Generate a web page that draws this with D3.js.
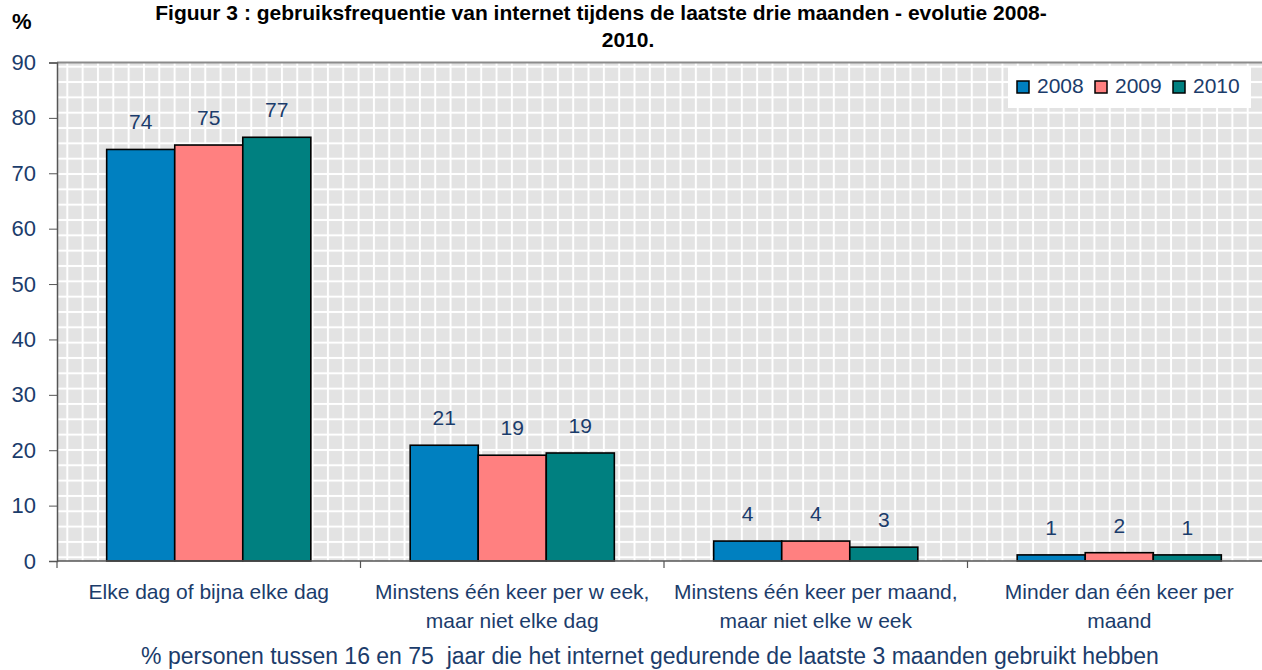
<!DOCTYPE html>
<html>
<head>
<meta charset="utf-8">
<script src="https://cdn.jsdelivr.net/npm/d3@7"></script>
<style>
  body { margin:0; background:#fff; }
  svg { display:block; font-family: Arial, "Liberation Sans", sans-serif; }
</style>
</head>
<body>
<div id="chart"></div>
<script>
// =====================================================================
// data
var categories = ["dag", "week", "maand", "minder"];
var categoryLines = [
    ["Elke dag of bijna elke dag"],
    ["Minstens één keer per w eek,", "maar niet elke dag"],
    ["Minstens één keer per maand,", "maar niet elke w eek"],
    ["Minder dan één keer per", "maand"]
];
var years = ["2008", "2009", "2010"];
var values2008 = [74.3, 20.9, 3.6, 1.1];
var values2009 = [75.1, 19.1, 3.6, 1.5];
var values2010 = [76.5, 19.5, 2.5, 1.1];
var labels2008 = ["74", "21", "4", "1"];
var labels2009 = ["75", "19", "4", "2"];
var labels2010 = ["77", "19", "3", "1"];
var yTicks = [0, 10, 20, 30, 40, 50, 60, 70, 80, 90];
var colors = ["#0080C0", "#FF8080", "#008080"];
var textColor = "#1b3c6b";
// =====================================================================
var size = { width:1262, height:670 };
var plot = { left:57, right:1271, top:62.5, bottom:561 };

var series = [values2008, values2009, values2010];
var seriesLabels = [labels2008, labels2009, labels2010];

var svg = d3.select("#chart").append("svg")
    .attr("width", size.width).attr("height", size.height);

// grid pattern (white lines on grey)
var cell = 15.33;
var defs = svg.append("defs");
var pat = defs.append("pattern")
    .attr("id", "grid")
    .attr("patternUnits", "userSpaceOnUse")
    .attr("width", cell).attr("height", cell)
    .attr("x", 67.3).attr("y", 66.7);
pat.append("rect").attr("width", cell).attr("height", cell).attr("fill", "#e3e3e3");
pat.append("rect").attr("x", -1).attr("y", 0).attr("width", 2).attr("height", cell).attr("fill", "#fff");
pat.append("rect").attr("x", 0).attr("y", -1).attr("width", cell).attr("height", 2).attr("fill", "#fff");
pat.append("rect").attr("x", cell - 1).attr("y", 0).attr("width", 2).attr("height", cell).attr("fill", "#fff");
pat.append("rect").attr("x", 0).attr("y", cell - 1).attr("width", cell).attr("height", 2).attr("fill", "#fff");

// scales
var y = d3.scaleLinear().domain([0, 90]).range([plot.bottom, plot.top]);
var x0 = d3.scaleBand().domain(categories).range([plot.left, plot.right]);
var x1 = d3.scaleBand().domain(years).range([0, x0.bandwidth()])
    .paddingInner(0).paddingOuter(0.73);

// plot area
svg.append("rect")
    .attr("x", plot.left).attr("y", plot.top)
    .attr("width", plot.right - plot.left).attr("height", plot.bottom - plot.top)
    .attr("fill", "url(#grid)");
svg.append("line")
    .attr("x1", plot.left).attr("x2", plot.right)
    .attr("y1", plot.top).attr("y2", plot.top)
    .attr("stroke", "#8c8c8c").attr("stroke-width", 2);

// y axis
var yAxis = d3.axisLeft(y).tickValues(yTicks).tickSize(8).tickPadding(13);
var gy = svg.append("g").attr("transform", "translate(" + plot.left + ",0)").call(yAxis);
gy.select(".domain").attr("stroke", "#555").attr("stroke-width", 1.5);
gy.selectAll(".tick line").attr("stroke", "#555");
gy.selectAll(".tick text").attr("fill", textColor)
    .style("font-size", "22px").style("font-family", "Arial, 'Liberation Sans', sans-serif");

// bars
series.forEach(function(vals, s) {
    svg.append("g").selectAll("rect")
        .data(vals).enter().append("rect")
        .attr("x", function(d, i){ return x0(categories[i]) + x1(years[s]); })
        .attr("y", function(d){ return y(d); })
        .attr("width", x1.bandwidth())
        .attr("height", function(d){ return y(0) - y(d); })
        .attr("fill", colors[s])
        .attr("stroke", "#000").attr("stroke-width", 1.6);

    svg.append("g").selectAll("text")
        .data(vals).enter().append("text")
        .attr("x", function(d, i){ return x0(categories[i]) + x1(years[s]) + x1.bandwidth()/2; })
        .attr("y", function(d){ return y(d) - 20; })
        .attr("text-anchor", "middle")
        .attr("fill", textColor)
        .style("font-size", "21px")
        .text(function(d, i){ return seriesLabels[s][i]; });
});

// x axis
svg.append("line")
    .attr("x1", plot.left).attr("x2", plot.right)
    .attr("y1", plot.bottom).attr("y2", plot.bottom)
    .attr("stroke", "#555").attr("stroke-width", 1.5);
var xTickPos = categories.map(function(c){ return x0(c); }).concat([plot.right]);
svg.append("g").selectAll("line").data(xTickPos).enter().append("line")
    .attr("x1", function(d){ return d; }).attr("x2", function(d){ return d; })
    .attr("y1", plot.bottom).attr("y2", plot.bottom + 7)
    .attr("stroke", "#555").attr("stroke-width", 1.2);

var catText = svg.append("g").selectAll("text")
    .data(categories).enter().append("text")
    .attr("x", function(d){ return x0(d) + x0.bandwidth()/2; })
    .attr("y", 599)
    .attr("text-anchor", "middle")
    .attr("fill", textColor)
    .style("font-size", "21px");
catText.each(function(d, i) {
    var t = d3.select(this);
    categoryLines[i].forEach(function(line, k) {
        t.append("tspan")
            .attr("x", x0(d) + x0.bandwidth()/2)
            .attr("dy", k === 0 ? 0 : 29)
            .text(line);
    });
});

// axis titles
svg.append("text")
    .attr("x", 650).attr("y", 664)
    .attr("text-anchor", "middle")
    .attr("fill", textColor)
    .style("font-size", "23px")
    .attr("xml:space", "preserve")
    .text("% personen tussen 16 en 75  jaar die het internet gedurende de laatste 3 maanden gebruikt hebben");

svg.append("text")
    .attr("x", 12).attr("y", 29)
    .attr("fill", "#000")
    .style("font-size", "22px").style("font-weight", "bold")
    .text("%");

// title
svg.append("text")
    .attr("x", 601).attr("y", 20)
    .attr("text-anchor", "middle")
    .style("font-size", "21px").style("font-weight", "bold")
    .text("Figuur 3 : gebruiksfrequentie van internet tijdens de laatste drie maanden - evolutie 2008-");
svg.append("text")
    .attr("x", 628).attr("y", 47)
    .attr("text-anchor", "middle")
    .style("font-size", "21px").style("font-weight", "bold")
    .text("2010.");

// legend
var legend = svg.append("g").attr("transform", "translate(1008,67)");
legend.append("rect")
    .attr("width", 243).attr("height", 41)
    .attr("fill", "#fff");
var litem = legend.selectAll(".Legend").data(years).enter().append("g")
    .attr("class", "Legend")
    .attr("transform", function(d, i){ return "translate(" + (9 + i*78) + ",0)"; });
litem.append("rect")
    .attr("x", 0).attr("y", 14)
    .attr("width", 12).attr("height", 12)
    .attr("fill", function(d, i){ return colors[i]; })
    .attr("stroke", "#000").attr("stroke-width", 1.5);
litem.append("text")
    .attr("x", 20).attr("y", 26)
    .attr("fill", textColor)
    .style("font-size", "21px")
    .text(function(d){ return d; });
</script>
</body>
</html>
